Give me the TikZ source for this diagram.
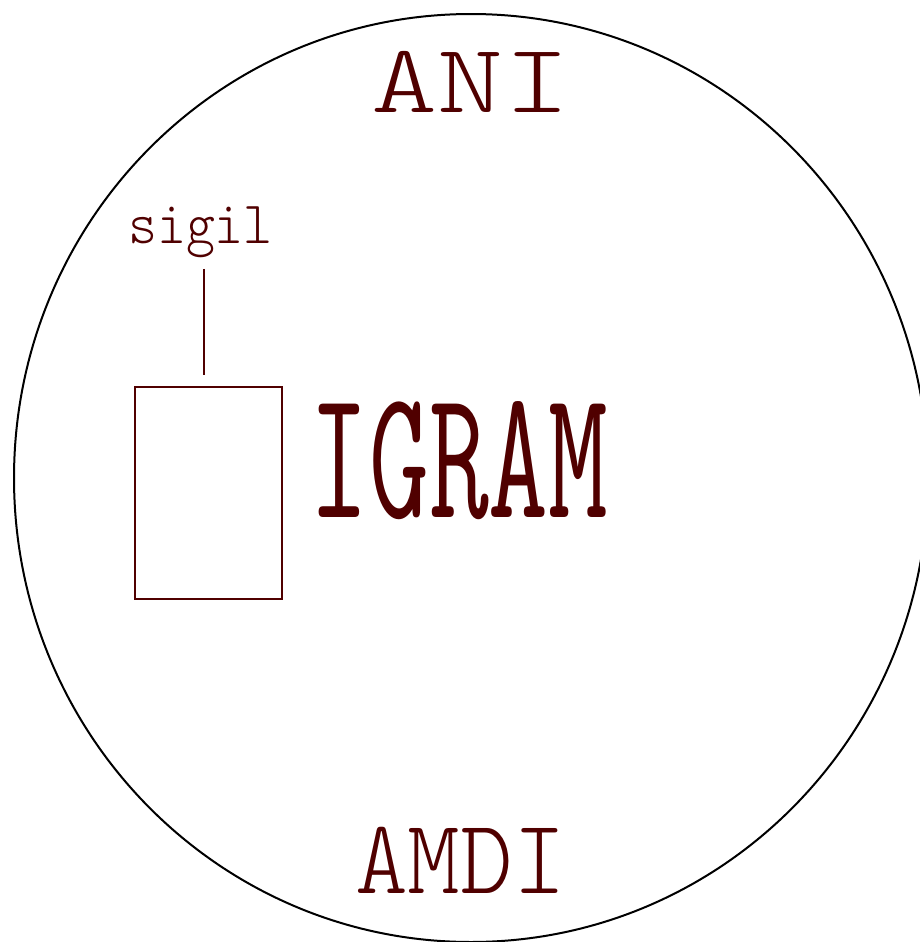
\documentclass[tikz,border=0pt]{standalone}
\usepackage{fontspec}
\usepackage{graphicx}
\newfontfamily\lighttt{lmmonolt10-regular}[Extension=.otf]
\definecolor{inkred}{RGB}{80,0,0}

\begin{document}
\begin{tikzpicture}[
	x=0.5pt,
	y=-0.5pt,
	inner sep=0pt,
	outer sep=0pt,
	word/.style={
		text=inkred,
		anchor=base,
		font=\lighttt\fontsize{#1}{#1}\selectfont
	},
	frame/.style={
		draw=inkred,
		line width=1pt,
		minimum width=73.5pt,
		minimum height=106pt
	}]

   \useasboundingbox (0,0) rectangle (920,942);
   % the ring, cut off at right and bottom
   \draw[line width=1pt] (471,478) ellipse [x radius=457, y radius=464];

   \node[word=62.9] (ani) at (471,112) {\scalebox{1}[0.78]{ANI}};
   \node[word=58, font=\ttfamily\fontsize{58}{58}\selectfont] (igram) at (459,517) {\scalebox{1}[1.6]{IGRAM}};
   \node[word=50.2] (amdi) at (460.5,893) {\scalebox{1}[1.06]{AMDI}};
   \node[word=27.6] (sigil) at (200.5,243) {\scalebox{1}[1.09]{sigil}};
   \node[frame] (box) at (208.5,493) {};

   \draw[inkred, line width=1pt, shorten <=5.8pt, shorten >=6pt]
    ([xshift=1.75pt]sigil.south) -- ([xshift=1.75pt]sigil.south |- box.north);
\end{tikzpicture}
\end{document}
